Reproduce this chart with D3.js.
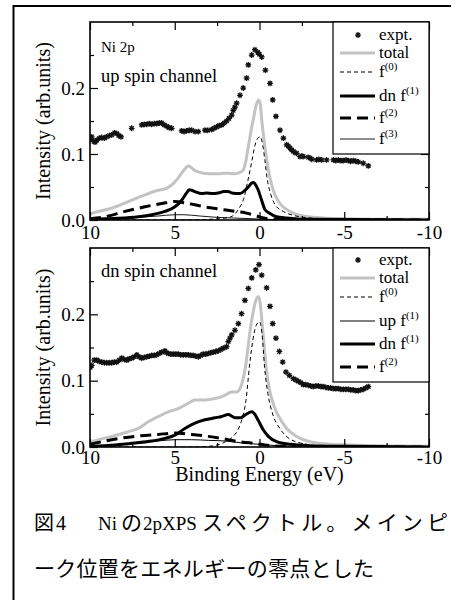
<!DOCTYPE html>
<html><head><meta charset="utf-8">
<script src="https://cdn.jsdelivr.net/npm/d3@7"></script>
<style>body{margin:0;background:#fff}svg{display:block}</style>
</head><body>
<svg id="c" width="457" height="600"></svg>
<script>
// ---------- DATA (Binding energy eV, intensity arb.units) ----------
const xTicksMajor = [10, 5, 0, -5, -10];
const xTickLabels = ["10", "5", "0", "-5", "-10"];
const yTicksMajor = [0, 0.1, 0.2];
const yTickLabels = ["0.0", "0.1", "0.2"];

const upExpt = [[9.98,0.122],[9.90,0.126],[9.78,0.119],[9.70,0.118],[9.60,0.121],[9.45,0.124],[9.31,0.125],[9.15,0.124],[9.02,0.126],[8.85,0.128],[8.72,0.129],[8.55,0.132],[8.42,0.131],[8.30,0.128],[8.17,0.126],[7.54,0.139],[6.95,0.144],[6.80,0.145],[6.65,0.145],[6.50,0.146],[6.36,0.145],[6.20,0.146],[6.07,0.146],[5.92,0.147],[5.77,0.147],[5.62,0.144],[5.47,0.142],[5.33,0.140],[5.18,0.139],[4.59,0.135],[4.45,0.134],[4.30,0.135],[4.15,0.136],[4.00,0.136],[3.80,0.134],[3.61,0.134],[3.22,0.136],[3.05,0.136],[2.82,0.137],[2.68,0.139],[2.53,0.141],[2.38,0.143],[2.23,0.144],[2.08,0.147],[1.94,0.150],[1.80,0.154],[1.64,0.159],[1.55,0.166],[1.45,0.171],[1.35,0.177],[1.15,0.189],[0.96,0.200],[0.76,0.215],[0.66,0.235],[0.46,0.250],[0.27,0.258],[0.10,0.254],[0.01,0.251],[-0.13,0.247],[-0.35,0.227],[-0.62,0.207],[-0.78,0.182],[-0.97,0.157],[-1.21,0.136],[-1.41,0.124],[-1.60,0.114],[-1.70,0.112],[-1.80,0.109],[-1.90,0.106],[-2.00,0.104],[-2.10,0.102],[-2.19,0.101],[-2.39,0.096],[-2.50,0.097],[-2.58,0.096],[-2.88,0.095],[-2.98,0.094],[-3.08,0.092],[-3.37,0.091],[-3.50,0.092],[-3.67,0.091],[-3.96,0.091],[-4.36,0.091],[-4.50,0.090],[-4.65,0.091],[-4.80,0.090],[-4.94,0.090],[-5.10,0.091],[-5.24,0.090],[-5.38,0.089],[-5.53,0.090],[-5.68,0.089],[-5.83,0.088],[-6.12,0.086],[-6.42,0.082]];
const upTotal = [[10,0.009],[9.9,0.010],[8.72,0.018],[7.74,0.028],[6.76,0.038],[5.97,0.045],[5.58,0.047],[5.18,0.053],[4.85,0.062],[4.59,0.071],[4.35,0.079],[4.20,0.082],[4.05,0.080],[3.81,0.075],[3.61,0.073],[3.02,0.070],[2.43,0.070],[2.10,0.071],[1.84,0.071],[1.50,0.070],[1.25,0.071],[0.96,0.076],[0.80,0.090],[0.66,0.111],[0.50,0.135],[0.37,0.152],[0.17,0.176],[0.05,0.182],[-0.05,0.175],[-0.13,0.152],[-0.32,0.111],[-0.52,0.076],[-0.81,0.045],[-1.21,0.025],[-1.80,0.013],[-2.58,0.006],[-3.76,0.003],[-5,0.002],[-7,0.001],[-10,0.001]];
const upF0 = [[10,0],[5,0],[3,0.001],[2,0.003],[1.6,0.006],[1.25,0.016],[0.9,0.035],[0.7,0.058],[0.46,0.088],[0.27,0.113],[0.1,0.124],[-0.05,0.126],[-0.2,0.112],[-0.32,0.090],[-0.45,0.063],[-0.65,0.040],[-0.9,0.024],[-1.4,0.013],[-2,0.007],[-3,0.003],[-4,0.001],[-10,0]];
const upDnF1 = [[10,0.001],[8.33,0.0025],[7.15,0.005],[6.36,0.008],[5.58,0.013],[4.99,0.020],[4.59,0.030],[4.30,0.041],[4.15,0.046],[4.0,0.045],[3.81,0.043],[3.41,0.040],[3.1,0.041],[2.82,0.040],[2.43,0.041],[2.1,0.043],[1.84,0.043],[1.64,0.041],[1.15,0.040],[0.86,0.045],[0.66,0.050],[0.46,0.056],[0.35,0.057],[0.2,0.052],[0.07,0.045],[-0.1,0.032],[-0.32,0.016],[-0.62,0.010],[-1.0,0.005],[-1.6,0.003],[-3,0.001],[-10,0]];
const upF2 = [[10,0.002],[9.11,0.005],[7.94,0.013],[6.76,0.020],[5.77,0.025],[4.99,0.028],[4.40,0.026],[3.81,0.023],[3.02,0.019],[2.23,0.016],[1.45,0.013],[0.86,0.011],[0.27,0.007],[-0.32,0.0025],[-1,0.001],[-10,0]];
const upF3 = [[10,0.001],[8,0.003],[6,0.006],[5,0.008],[4.5,0.008],[3.5,0.006],[2.5,0.004],[1.5,0.003],[0.5,0.002],[-0.5,0.001],[-2,0],[-10,0]];

const dnExpt = [[9.98,0.120],[9.90,0.123],[9.75,0.131],[9.60,0.131],[9.45,0.129],[9.31,0.128],[9.15,0.127],[9.02,0.127],[8.87,0.127],[8.72,0.127],[8.57,0.128],[8.42,0.128],[8.27,0.131],[8.13,0.134],[7.98,0.132],[7.83,0.131],[7.69,0.133],[7.54,0.134],[7.39,0.136],[7.24,0.139],[7.10,0.136],[6.95,0.134],[6.80,0.135],[6.65,0.136],[6.50,0.137],[6.36,0.138],[6.21,0.138],[6.07,0.139],[5.92,0.141],[5.77,0.143],[5.58,0.145],[5.48,0.142],[5.38,0.141],[5.23,0.140],[5.09,0.140],[4.94,0.140],[4.79,0.140],[4.65,0.139],[4.50,0.139],[4.35,0.139],[4.20,0.139],[4.05,0.138],[3.91,0.138],[3.76,0.137],[3.61,0.136],[3.47,0.138],[3.32,0.140],[3.17,0.140],[3.02,0.141],[2.88,0.142],[2.73,0.143],[2.58,0.144],[2.43,0.145],[2.28,0.147],[2.14,0.149],[2.04,0.150],[1.94,0.151],[1.84,0.159],[1.74,0.164],[1.64,0.169],[1.45,0.176],[1.25,0.186],[1.06,0.201],[0.86,0.221],[0.66,0.239],[0.46,0.255],[0.22,0.267],[0.03,0.275],[-0.13,0.259],[-0.42,0.240],[-0.62,0.212],[-0.78,0.186],[-0.97,0.164],[-1.17,0.144],[-1.37,0.128],[-1.56,0.113],[-1.76,0.108],[-2.00,0.103],[-2.15,0.101],[-2.29,0.099],[-2.44,0.097],[-2.58,0.094],[-2.73,0.094],[-2.88,0.093],[-3.02,0.092],[-3.17,0.091],[-3.32,0.092],[-3.47,0.092],[-3.62,0.091],[-3.76,0.091],[-3.91,0.090],[-4.06,0.089],[-4.20,0.089],[-4.35,0.088],[-4.50,0.088],[-4.65,0.088],[-4.80,0.087],[-4.95,0.087],[-5.10,0.087],[-5.24,0.087],[-5.38,0.086],[-5.53,0.086],[-5.68,0.085],[-5.83,0.085],[-5.97,0.086],[-6.12,0.087],[-6.27,0.089],[-6.42,0.091]];
const dnTotal = [[10,0.007],[9.9,0.008],[8.72,0.016],[7.74,0.023],[7.15,0.028],[6.56,0.038],[5.97,0.046],[5.38,0.053],[4.79,0.058],[4.2,0.066],[3.81,0.071],[3.22,0.071],[2.63,0.073],[2.04,0.078],[1.64,0.083],[1.35,0.083],[1.15,0.088],[0.96,0.103],[0.8,0.125],[0.66,0.154],[0.5,0.185],[0.37,0.204],[0.17,0.224],[0.05,0.227],[-0.05,0.215],[-0.13,0.194],[-0.27,0.154],[-0.42,0.113],[-0.62,0.083],[-0.91,0.058],[-1.21,0.043],[-1.6,0.028],[-2.19,0.016],[-2.98,0.008],[-4.16,0.004],[-5.3,0.003],[-7,0.002],[-10,0.001]];
const dnF0 = [[10,0],[4,0],[3,0.001],[2.5,0.003],[2,0.008],[1.6,0.015],[1.25,0.027],[1.0,0.045],[0.8,0.070],[0.6,0.120],[0.4,0.160],[0.2,0.183],[0.0,0.189],[-0.15,0.170],[-0.3,0.120],[-0.5,0.080],[-0.8,0.048],[-1.2,0.028],[-1.8,0.012],[-2.8,0.004],[-4,0.001],[-10,0]];
const dnUpF1 = [[10,0.001],[8,0.004],[6,0.009],[5,0.011],[4,0.011],[3,0.010],[2,0.009],[1,0.006],[0,0.004],[-1,0.002],[-2,0.001],[-4,0],[-10,0]];
const dnDnF1 = [[10,0.001],[8.5,0.003],[7.34,0.006],[6.36,0.009],[5.58,0.013],[4.99,0.018],[4.40,0.028],[3.81,0.036],[3.22,0.041],[2.63,0.044],[2.23,0.046],[1.84,0.049],[1.6,0.046],[1.45,0.044],[1.15,0.044],[0.8,0.049],[0.46,0.053],[0.3,0.050],[0.07,0.040],[-0.22,0.026],[-0.52,0.016],[-1.01,0.008],[-1.8,0.004],[-3,0.002],[-5,0.001],[-10,0]];
const dnF2 = [[10,0.004],[8.72,0.011],[7.34,0.016],[5.97,0.019],[4.99,0.021],[4.0,0.019],[3.02,0.016],[2.04,0.012],[1.25,0.008],[0.46,0.006],[-0.32,0.003],[-1.5,0.001],[-10,0]];

const upLegend = ["expt.", "total", "f|(0)", "dn f|(1)", "f|(2)", "f|(3)"];
const dnLegend = ["expt.", "total", "f|(0)", "up f|(1)", "dn f|(1)", "f|(2)"];

// ---------- STYLES ----------
const ST = {
  total: {stroke:"#c3c3c3", width:3, dash:null},
  f0:    {stroke:"#000", width:1, dash:"4,3"},
  dnf1:  {stroke:"#000", width:3, dash:null},
  upf1:  {stroke:"#000", width:1, dash:null},
  f2:    {stroke:"#000", width:3, dash:"11,6"},
  f3:    {stroke:"#000", width:0.9, dash:null}
};
const SERIF = "'Liberation Serif','Times New Roman',Times,serif";

const svg = d3.select("#c");
// outer document frame
svg.append("line").attr("x1",13).attr("x2",451).attr("y1",6).attr("y2",6).attr("stroke","#000").attr("stroke-width",2);
svg.append("line").attr("x1",13.5).attr("x2",13.5).attr("y1",5).attr("y2",600).attr("stroke","#000").attr("stroke-width",2);

const x = d3.scaleLinear().domain([10,-10]).range([90,429]);

function starPath(cx, cy, r){
  const d = r*0.72;
  return `M${cx-r},${cy}L${cx+r},${cy}M${cx},${cy-r}L${cx},${cy+r}M${cx-d},${cy-d}L${cx+d},${cy+d}M${cx-d},${cy+d}L${cx+d},${cy-d}`;
}

function panel(top, bottom, series, legendItems, legendYs, legendBottom, labelPad){
  const y = d3.scaleLinear().domain([0,0.3]).range([bottom, top]);
  const g = svg.append("g");
  const clipId = "clip"+top;
  svg.append("clipPath").attr("id",clipId).append("rect").attr("x",90).attr("y",top).attr("width",339).attr("height",bottom-top);
  const line = d3.line().x(d=>x(d[0])).y(d=>y(d[1])).curve(d3.curveMonotoneX);
  const plot = g.append("g").attr("clip-path",`url(#${clipId})`);
  series.forEach(s=>{
    if (s.style === "expt") {
      plot.append("path").attr("d", s.data.map(d=>starPath(x(d[0]),y(d[1]),2.9)).join(""))
        .attr("stroke","#111").attr("stroke-width",1.25).attr("fill","none");
    } else {
      const st = ST[s.style];
      plot.append("path").datum(s.data).attr("d",line).attr("fill","none")
        .attr("stroke",st.stroke).attr("stroke-width",st.width)
        .attr("stroke-dasharray",st.dash).attr("stroke-linejoin","round");
    }
  });
  // axes
  const fontAxis = sel => sel.attr("font-family",SERIF).attr("font-size",19).attr("fill","#000");
  const ax = g.append("g").attr("transform",`translate(0,${bottom})`)
    .call(d3.axisBottom(x).tickValues(xTicksMajor).tickSize(-8).tickPadding(labelPad)
      .tickFormat((d,i)=> xTickLabels[i]));
  ax.select(".domain").remove();
  ax.selectAll("text").call(fontAxis);
  const axm = g.append("g").attr("transform",`translate(0,${bottom})`)
    .call(d3.axisBottom(x).tickValues([7.5,2.5,-2.5,-7.5]).tickSize(-4).tickFormat(""));
  axm.select(".domain").remove();
  const axt = g.append("g").attr("transform",`translate(0,${top})`)
    .call(d3.axisTop(x).tickValues(xTicksMajor).tickSize(-8).tickFormat(""));
  axt.select(".domain").remove();
  const axtm = g.append("g").attr("transform",`translate(0,${top})`)
    .call(d3.axisTop(x).tickValues([7.5,2.5,-2.5,-7.5]).tickSize(-4).tickFormat(""));
  axtm.select(".domain").remove();
  const ay = g.append("g").attr("transform","translate(90,0)")
    .call(d3.axisLeft(y).tickValues(yTicksMajor).tickSize(-8).tickPadding(5).tickFormat((d,i)=>yTickLabels[i]));
  ay.select(".domain").remove();
  ay.selectAll("text").call(fontAxis);
  const aym = g.append("g").attr("transform","translate(90,0)")
    .call(d3.axisLeft(y).tickValues([0.05,0.15,0.25]).tickSize(-4).tickFormat(""));
  aym.select(".domain").remove();
  const ayr = g.append("g").attr("transform","translate(429,0)")
    .call(d3.axisRight(y).tickValues([0.1,0.2]).tickSize(-8).tickFormat(""));
  ayr.select(".domain").remove();
  const ayrm = g.append("g").attr("transform","translate(429,0)")
    .call(d3.axisRight(y).tickValues([0.05,0.15,0.25]).tickSize(-4).tickFormat(""));
  ayrm.select(".domain").remove();
  g.selectAll(".tick line").attr("stroke","#000").attr("stroke-width",1.2);
  // frame
  g.append("rect").attr("x",90).attr("y",top).attr("width",339).attr("height",bottom-top)
    .attr("fill","none").attr("stroke","#000").attr("stroke-width",1.6);
  // y title
  g.append("text").attr("transform",`translate(50,${(top+bottom)/2}) rotate(-90)`)
    .attr("text-anchor","middle").attr("font-family",SERIF).attr("font-size",20).text("Intensity (arb.units)");
  // legend
  const lg = g.append("g");
  lg.append("rect").attr("x",333).attr("y",top).attr("width",96).attr("height",legendBottom-top)
    .attr("fill","#fff").attr("stroke","#000").attr("stroke-width",1.2);
  legendItems.forEach((lab,i)=>{
    const ly = legendYs[i];
    const s = series.find(ss=>ss.label===lab);
    if (s.style==="expt") {
      lg.append("path").attr("d",starPath(358,ly,2.9)).attr("stroke","#111").attr("stroke-width",1.25);
    } else {
      const st = ST[s.style];
      lg.append("line").attr("x1",340).attr("x2",375).attr("y1",ly).attr("y2",ly)
        .attr("stroke",st.stroke).attr("stroke-width",st.width).attr("stroke-dasharray",st.dash);
    }
    const parts = lab.split("|");
    const t = lg.append("text").attr("x",379).attr("y",ly+5).attr("font-family",SERIF).attr("font-size",17);
    t.append("tspan").text(parts[0]);
    if (parts[1]) t.append("tspan").attr("font-size",11).attr("dy",-7).text(parts[1]);
  });
  return g;
}

const upSeries = [
  {label:"expt.", style:"expt", data:upExpt},
  {label:"total", style:"total", data:upTotal},
  {label:"f|(2)", style:"f2", data:upF2},
  {label:"f|(3)", style:"f3", data:upF3},
  {label:"dn f|(1)", style:"dnf1", data:upDnF1},
  {label:"f|(0)", style:"f0", data:upF0}
];
const dnSeries = [
  {label:"expt.", style:"expt", data:dnExpt},
  {label:"total", style:"total", data:dnTotal},
  {label:"f|(2)", style:"f2", data:dnF2},
  {label:"up f|(1)", style:"upf1", data:dnUpF1},
  {label:"dn f|(1)", style:"dnf1", data:dnDnF1},
  {label:"f|(0)", style:"f0", data:dnF0}
];

panel(22, 220, upSeries, upLegend, [35,53,72,96,118,139], 154, 6);
panel(248, 447, dnSeries, dnLegend, [260,278,297,321,344,367], 382, 3);

// panel annotations
svg.append("text").attr("x",101).attr("y",52).attr("font-family",SERIF).attr("font-size",15).text("Ni 2p");
svg.append("text").attr("x",101).attr("y",82).attr("font-family",SERIF).attr("font-size",18.5).text("up spin channel");
svg.append("text").attr("x",101).attr("y",277).attr("font-family",SERIF).attr("font-size",18.5).text("dn spin channel");

// x title
svg.append("text").attr("x",259.5).attr("y",481).attr("text-anchor","middle").attr("font-family",SERIF).attr("font-size",20).text("Binding Energy (eV)");

// caption
const CAP = "'Liberation Serif','Noto Sans CJK JP',serif";
const cap1 = [["図",34,20],["4",56,20],["Ni",98,19],["の",121,21],["2pXPS",143,19]];
cap1.forEach(c=>svg.append("text").attr("x",c[1]).attr("y",530).attr("font-family",CAP).attr("font-size",c[2]).text(c[0]));
svg.append("text").attr("x",202).attr("y",530).attr("font-family",CAP).attr("font-size",21)
  .attr("textLength",246).attr("lengthAdjust","spacing").text("スペクトル。メインピ");
svg.append("text").attr("x",34).attr("y",576).attr("font-family",CAP).attr("font-size",21)
  .attr("textLength",340).attr("lengthAdjust","spacing").text("ーク位置をエネルギーの零点とした");
</script>
</body></html>
